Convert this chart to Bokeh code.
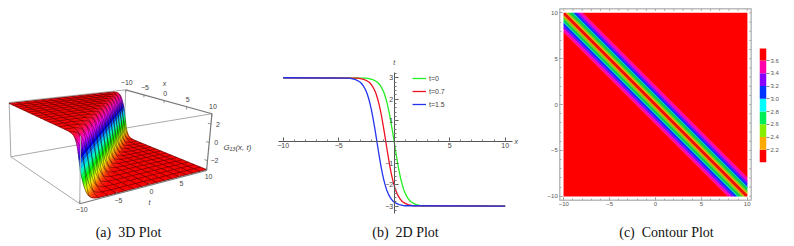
import colorsys
import numpy as np
from bokeh.core.properties import value
from bokeh.embed import file_html
from bokeh.layouts import row
from bokeh.models import FixedTicker, Label, Legend, LegendItem, Range1d, LinearAxis
from bokeh.plotting import figure
from bokeh.resources import INLINE

# ---------- data ----------
# 3D surface: G13 against s = x + t
surf_s_pos = [0, .125, .25, .375, .5, .625, .75, .875, 1, 1.125, 1.25, 1.375, 1.5, 1.625, 1.75, 1.875, 2,
              2.125, 2.25, 2.375, 2.5, 3.125, 3.75, 5, 6.25, 7.5, 8.75, 10, 11.25, 12.5, 13.75, 15, 16.25, 17.5, 18.75, 20]
surf_g_pos = [0, -.41, -.80, -1.17, -1.50, -1.79, -2.03, -2.24, -2.40, -2.53, -2.64, -2.72, -2.79, -2.84, -2.87, -2.90, -2.93,
              -2.94, -2.96, -2.97, -2.98, -2.99, -3, -3, -3, -3, -3, -3, -3, -3, -3, -3, -3, -3, -3, -3]
mesh_steps = [-10, -8.75, -7.5, -6.25, -5, -3.75, -2.5, -1.25, 0, 1.25, 2.5, 3.75, 5, 6.25, 7.5, 8.75, 10]

# 2D curves
curve_y = [3, 2.98, 2.93, 2.87, 2.79, 2.72, 2.64, 2.53, 2.40, 2.24, 2.03, 1.79, 1.50, 1.17, .80, .41, 0,
           -.41, -.80, -1.17, -1.50, -1.79, -2.03, -2.24, -2.40, -2.53, -2.64, -2.72, -2.79, -2.87, -2.93, -2.98, -3]
curve_x_t0 = [-10, -2.5, -2, -1.75, -1.5, -1.375, -1.25, -1.125, -1, -.875, -.75, -.625, -.5, -.375, -.25, -.125, 0,
              .125, .25, .375, .5, .625, .75, .875, 1, 1.125, 1.25, 1.375, 1.5, 1.75, 2, 2.5, 10]
curve_x_t07 = [-10, -3.25, -2.75, -2.5, -2.25, -2.125, -2, -1.875, -1.75, -1.625, -1.5, -1.375, -1.25, -1.125, -1, -.875, -.75,
               -.625, -.5, -.375, -.25, -.125, 0, .125, .25, .375, .5, .625, .75, 1, 1.25, 1.75, 10]
curve_x_t15 = [-10, -4.05, -3.55, -3.3, -3.05, -2.925, -2.8, -2.675, -2.55, -2.425, -2.3, -2.175, -2.05, -1.925, -1.8, -1.675, -1.55,
               -1.425, -1.3, -1.175, -1.05, -.925, -.8, -.675, -.55, -.425, -.3, -.175, -.05, .2, .45, .95, 10]

# Contour plot: bands over x + y
band_edges = [-21, -2.1, -1.7, -1.4, -1.08, -1.0, -.6, -.35, -.25, .25, .35, .6, 1.0, 1.08, 1.4, 1.7, 2.1, 21]
band_colors = ["#ff0000", "#ff00aa", "#8800ff", "#0033ff", "#00ddee", "#00cc55", "#88cc00", "#ffaa00", "#ee1100",
               "#ffaa00", "#88cc00", "#00cc55", "#00ddee", "#0033ff", "#8800ff", "#ff00aa", "#ff0000"]

# Contour legend
legend_low = [2.0, 2.2, 2.4, 2.6, 2.8, 3.0, 3.2, 3.4, 3.6]
legend_high = [2.2, 2.4, 2.6, 2.8, 3.0, 3.2, 3.4, 3.6, 3.8]
legend_colors = ["#ff0000", "#ffaa00", "#88ee00", "#00ee55", "#00ffff", "#0033ff", "#8800ff", "#ff00aa", "#ff0000"]
legend_ticks = [2.2, 2.4, 2.6, 2.8, 3.0, 3.2, 3.4, 3.6]
legend_labels = ["2.2", "2.4", "2.6", "2.8", "3.0", "3.2", "3.4", "3.6"]

tick_3d = [-10, -5, 0, 5, 10]
ztick_3d = [-2, 0, 2]
minor_c = [-10, -9, -8, -7, -6, -5, -4, -3, -2, -1, 0, 1, 2, 3, 4, 5, 6, 7, 8, 9, 10]
captions = ["(a)\u00a0 3D Plot", "(b)\u00a0 2D Plot", "(c)\u00a0 Contour Plot"]

SANS = "Liberation Sans"
SERIF = "Liberation Serif"
MINUS = "\u2212"
CAP = dict(text_font=SERIF, text_font_size="14px", text_color="#111111", text_align="center", text_baseline="middle")
AXT = dict(text_font=SANS, text_font_style="italic", text_font_size="7px", text_color="#444444",
           text_align="center", text_baseline="middle")


def lab(v):
    return str(v).replace("-", MINUS)


def clip_band(u0, u1, lim=10.0):
    """Clip the square |a|,|b|<=lim to the band u0 <= a+b <= u1."""
    poly = [(-lim, -lim), (lim, -lim), (lim, lim), (-lim, lim)]
    for sign, c in ((1, u0), (-1, -u1)):
        out = []
        for i in range(len(poly)):
            p, q = poly[i], poly[(i + 1) % len(poly)]
            dp = sign * (p[0] + p[1]) - c
            dq = sign * (q[0] + q[1]) - c
            if dp >= 0:
                out.append(p)
            if dp * dq < 0:
                f = dp / (dp - dq)
                out.append((p[0] + f * (q[0] - p[0]), p[1] + f * (q[1] - p[1])))
        poly = out
    return poly


# ---------- panel (a): perspective camera fitted to the box corners ----------
ZT, ZB = 3.1, -3.1
cam_world = [(-10, -10, ZT), (-10, 10, ZT), (10, 10, ZT), (10, -10, ZT),
             (-10, -10, ZB), (-10, 10, ZB), (10, 10, ZB), (10, -10, ZB)]
cam_view = [(8.5, 103), (125, 90), (212, 113), (80, 133), (10, 157), (124, 134), (205, 172), (80, 203)]
A = []
for (X, T, Z), (u, v) in zip(cam_world, cam_view):
    A.append([X, T, Z, 1, 0, 0, 0, 0, -u * X, -u * T, -u * Z, -u])
    A.append([0, 0, 0, 0, X, T, Z, 1, -v * X, -v * T, -v * Z, -v])
CAM = np.linalg.svd(np.array(A, float))[2][-1].reshape(3, 4)


def proj(x, t, z):
    P = CAM @ np.vstack([np.atleast_1d(x), np.atleast_1d(t), np.atleast_1d(z), np.ones(np.size(x))])
    return P[0] / P[2], P[1] / P[2]


def proj_list(pts):
    a = np.array(pts, float)
    return proj(a[:, 0], a[:, 1], a[:, 2])


s_nodes = [-v for v in surf_s_pos[:0:-1]] + surf_s_pos
g_nodes = [-v for v in surf_g_pos[:0:-1]] + surf_g_pos
g_of = dict(zip(s_nodes, g_nodes))

pa = figure(width=266, height=246, x_range=Range1d(0, 266), y_range=Range1d(246, 0), frame_align=False,
            output_backend="svg", toolbar_location=None, min_border=0, outline_line_color=None)
pa.axis.visible = False
pa.grid.visible = False


def box_edge(a, b, color="#aaaaaa", w=1.0):
    x, y = proj_list([a, b])
    pa.line(list(x), list(y), line_color=color, line_width=w)


# back of box
box_edge((-10, -10, ZB), (-10, 10, ZB))
box_edge((-10, 10, ZB), (10, 10, ZB))
box_edge((-10, -10, ZT), (-10, -10, ZB))
box_edge((-10, 10, ZT), (-10, 10, ZB))
box_edge((10, -10, ZT), (10, 10, ZT))
box_edge((-10, -10, ZB), (10, -10, ZB))
box_edge((-10, -10, ZT), (-10, 10, ZT))

xs, ys, cols = [], [], []
for s0, s1 in zip(s_nodes[:-1], s_nodes[1:]):
    poly = clip_band(s0, s1)
    g0, g1 = g_of[s0], g_of[s1]
    pts = []
    for a, b in poly:
        f = (a + b - s0) / (s1 - s0)
        pts.append((a, b, g0 + f * (g1 - g0)))
    px, py = proj_list(pts)
    xs.append(list(px))
    ys.append(list(py))
    h = ((g0 + g1) / 2 + 3) / 6
    r, g, b = colorsys.hsv_to_rgb(h % 1.0, 1, 0.97)
    cols.append("#%02x%02x%02x" % (int(r * 255), int(g * 255), int(b * 255)))
pa.patches(xs, ys, fill_color=cols, line_color=cols, line_width=0.5)

# mesh: lines of constant x and of constant t
for m in mesh_steps:
    nodes = [s for s in s_nodes if abs(s - m) <= 10]
    g = [g_of[s] for s in nodes]
    o = [s - m for s in nodes]
    x1, y1 = proj(np.full(len(nodes), m), np.array(o), np.array(g))
    x2, y2 = proj(np.array(o), np.full(len(nodes), m), np.array(g))
    pa.line(list(x1), list(y1), line_color="#200000", line_alpha=0.55, line_width=0.8)
    pa.line(list(x2), list(y2), line_color="#200000", line_alpha=0.55, line_width=0.8)

# front and axis edges
box_edge((10, -10, ZB), (10, 10, ZB), "#777777", 1.2)
box_edge((-10, 10, ZT), (10, 10, ZT), "#777777", 1.2)
box_edge((10, 10, ZT), (10, 10, ZB), "#777777", 1.2)
box_edge((10, -10, ZT), (10, -10, ZB), "#aaaaaa", 1.0)

# tick marks on the three labelled edges
for v in tick_3d:
    box_edge((10, v, ZB), (10, v, ZB + 0.3), "#777777", 0.8)
    box_edge((v, 10, ZT), (v, 10, ZT - 0.3), "#777777", 0.8)
for v in ztick_3d:
    box_edge((10, 10, v), (9.4, 10, v), "#777777", 0.8)

f3 = dict(text_font=value(SANS), text_font_size="7px", text_color="#444444",
          text_align="center", text_baseline="middle")
tx, ty = proj(np.full(5, 10.0), np.array(tick_3d, float), np.full(5, ZB))
pa.text(list(tx), list(ty), text=[lab(v) for v in tick_3d], x_offset=2, y_offset=6, **f3)
ux, uy = proj(np.array(tick_3d, float), np.full(5, 10.0), np.full(5, ZT))
pa.text(list(ux), list(uy), text=[lab(v) for v in tick_3d], x_offset=1, y_offset=-7, **f3)
zx, zy = proj(np.full(3, 10.0), np.full(3, 10.0), np.array(ztick_3d, float))
pa.text(list(zx), list(zy), text=[lab(v) for v in ztick_3d], x_offset=7, **f3)
pa.add_layout(Label(x=149, y=202, text="t", **AXT))
pa.add_layout(Label(x=164, y=83, text="x", **AXT))
pa.add_layout(Label(x=223, y=147, text="G\u2081\u2083(x, t)", **dict(AXT, text_align="left", text_font_size="8px")))
pa.add_layout(Label(x=128, y=232, text=captions[0], **CAP))

# ---------- panel (b) ----------
pb = figure(width=276, height=246, x_range=Range1d(-11.50, 13.36), y_range=Range1d(-4.883, 6.61), frame_align=False,
            output_backend="svg", toolbar_location=None, outline_line_color=None, min_border=0)
pb.grid.visible = False
pb.xaxis.fixed_location = 0
pb.yaxis.fixed_location = 0
pb.xaxis.bounds = (-10.42, 10.66)
pb.yaxis.bounds = (-3.34, 3.25)
pb.xaxis.ticker = FixedTicker(ticks=[-10, -5, 5, 10], minor_ticks=minor_c)
pb.yaxis.ticker = FixedTicker(ticks=[-3, -2, -1, 1, 2, 3], minor_ticks=[v / 5 for v in range(-16, 17)])
pb.xaxis.major_label_overrides = {v: lab(v) for v in [-10, -5, 5, 10]}
pb.yaxis.major_label_overrides = {v: lab(v) for v in [-3, -2, -1, 1, 2, 3]}
for ax in (pb.xaxis[0], pb.yaxis[0]):
    ax.axis_line_color = "#555555"
    ax.major_tick_line_color = "#555555"
    ax.minor_tick_line_color = "#777777"
    ax.major_tick_in = 4
    ax.major_tick_out = 0
    ax.minor_tick_in = 2
    ax.minor_tick_out = 0
    ax.major_label_standoff = 1
    ax.major_label_text_font = SANS
    ax.major_label_text_font_size = "7px"
    ax.major_label_text_color = "#444444"
    ax.major_label_orientation = "horizontal"
r0 = pb.line(curve_x_t0, curve_y, line_color="#22ee22", line_width=1.3)
r1 = pb.line(curve_x_t07, curve_y, line_color="#ee1122", line_width=1.3)
r2 = pb.line(curve_x_t15, curve_y, line_color="#2233ee", line_width=1.3)
leg = Legend(items=[LegendItem(label="t=0", renderers=[r0]), LegendItem(label="t=0.7", renderers=[r1]),
                    LegendItem(label="t=1.5", renderers=[r2])],
             location=(146, 136), padding=0, margin=0, spacing=1, glyph_width=14, glyph_height=12,
             label_height=12, label_standoff=3, background_fill_alpha=0, border_line_color=None,
             label_text_font=SANS, label_text_font_size="7px", label_text_color="#444444")
pb.add_layout(leg)
pb.add_layout(Label(x=11.0, y=0, text="x", **AXT))
pb.add_layout(Label(x=0, y=3.7, text="t", **AXT))
pb.add_layout(Label(x=1.02, y=-4.23, text=captions[1], **CAP))

# ---------- panel (c) ----------
FR = 10.44
pc = figure(width=210, height=246, x_range=Range1d(-12.32, 10.58), y_range=Range1d(-15.47, 11.35), frame_align=False,
            output_backend="svg", toolbar_location=None, outline_line_color=None, min_border=0)
pc.grid.visible = False
bx, by = [], []
for u0, u1 in zip(band_edges[:-1], band_edges[1:]):
    poly = clip_band(u0, u1)
    bx.append([q[0] for q in poly])
    by.append([q[1] for q in poly])
pc.patches(bx, by, fill_color=band_colors, line_color=band_colors, line_width=0.4)
pc.quad(left=[-FR], right=[FR], bottom=[-FR], top=[FR], fill_color=None, line_color="#bbbbbb", line_width=1.5)
ticks_c = FixedTicker(ticks=tick_3d, minor_ticks=minor_c)
pc.xaxis.fixed_location = -FR
pc.yaxis.fixed_location = -FR
pc.xaxis.bounds = (-FR, FR)
pc.yaxis.bounds = (-FR, FR)
for ax in pc.xaxis + pc.yaxis:
    ax.ticker = ticks_c
    ax.axis_line_color = None
    ax.major_tick_line_color = "#888888"
    ax.minor_tick_line_color = "#aaaaaa"
    ax.major_tick_in = 3
    ax.major_tick_out = 0
    ax.minor_tick_in = 2
    ax.minor_tick_out = 0
    ax.major_label_overrides = {v: lab(v) for v in tick_3d}
    ax.major_label_orientation = "horizontal"
    ax.major_label_standoff = 2
    ax.major_label_text_font = SANS
    ax.major_label_text_font_size = "6px"
    ax.major_label_text_color = "#555555"
# tick marks of the top and right frame edges
pc.segment(x0=minor_c, y0=[FR] * len(minor_c), x1=minor_c, y1=[FR - 0.22] * len(minor_c), line_color="#aaaaaa", line_width=1)
pc.segment(x0=[FR] * len(minor_c), y0=minor_c, x1=[FR - 0.22] * len(minor_c), y1=minor_c, line_color="#aaaaaa", line_width=1)
pc.add_layout(Label(x=1.2, y=-13.95, text=captions[2], **CAP))

# ---------- contour legend ----------
pd_ = figure(width=42, height=246, x_range=Range1d(0, 1), y_range=Range1d(2.0, 3.79), frame_align=False,
             output_backend="svg", toolbar_location=None, outline_line_color=None,
             min_border_left=7, min_border_right=28, min_border_top=48, min_border_bottom=84)
pd_.grid.visible = False
pd_.xaxis.visible = False
pd_.yaxis.visible = False
pd_.quad(left=0, right=1, bottom=legend_low, top=legend_high, fill_color=legend_colors, line_color=None)
ay = LinearAxis(ticker=FixedTicker(ticks=legend_ticks), major_tick_in=0, major_tick_out=3, axis_line_color=None,
                major_tick_line_color="#888888", major_label_standoff=1, major_label_text_font=SANS,
                major_label_text_font_size="6px", major_label_text_color="#555555",
                major_label_orientation="horizontal",
                major_label_overrides=dict(zip(legend_ticks, legend_labels)))
ay.minor_tick_line_color = None
pd_.add_layout(ay, "right")

layout = row(pa, pb, pc, pd_)
open("out.html", "w").write(file_html(layout, INLINE))
